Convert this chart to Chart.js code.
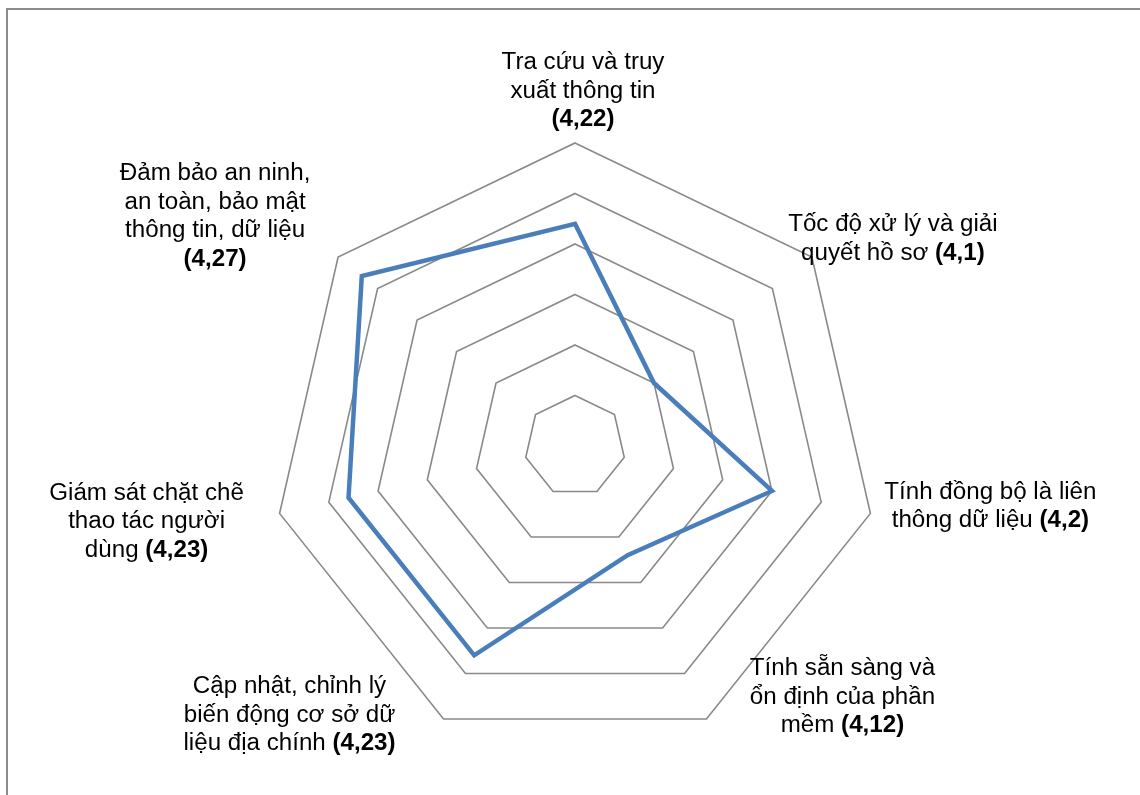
<!DOCTYPE html>
<html>
<head>
<meta charset="utf-8">
<script src="https://cdn.jsdelivr.net/npm/chart.js@4/dist/chart.umd.min.js"></script>
<style>
  html, body { margin: 0; padding: 0; background: #fff; overflow: hidden; }
  #frame { position: absolute; left: 6px; top: 8px; width: 1300px; height: 1000px; border: 2px solid #8c8c8c; }
  #wrap { position: absolute; left: 0; top: 0; width: 1140px; height: 795px; }
</style>
</head>
<body>
<div id="frame"></div>
<div id="wrap"><canvas id="myChart" width="1140" height="795"></canvas></div>
<script>
// categories (label lines; each line is a list of [text, bold] parts)
const categories = [
    'Tra cứu và truy xuất thông tin',
    'Tốc độ xử lý và giải quyết hồ sơ',
    'Tính đồng bộ là liên thông dữ liệu',
    'Tính sẵn sàng và ổn định của phần mềm',
    'Cập nhật, chỉnh lý biến động cơ sở dữ liệu địa chính',
    'Giám sát chặt chẽ thao tác người dùng',
    'Đảm bảo an ninh, an toàn, bảo mật thông tin, dữ liệu'
];
const scores = [4.22, 4.1, 4.2, 4.12, 4.23, 4.23, 4.27];
const labelLines = [
    [[['Tra cứu và truy', false]], [['xuất thông tin', false]], [['(4,22)', true]]],
    [[['Tốc độ xử lý và giải', false]], [['quyết hồ sơ ', false], ['(4,1)', true]]],
    [[['Tính đồng bộ là liên', false]], [['thông dữ liệu ', false], ['(4,2)', true]]],
    [[['Tính sẵn sàng và', false]], [['ổn định của phần', false]], [['mềm ', false], ['(4,12)', true]]],
    [[['Cập nhật, chỉnh lý', false]], [['biến động cơ sở dữ', false]], [['liệu địa chính ', false], ['(4,23)', true]]],
    [[['Giám sát chặt chẽ', false]], [['thao tác người', false]], [['dùng ', false], ['(4,23)', true]]],
    [[['Đảm bảo an ninh,', false]], [['an toàn, bảo mật', false]], [['thông tin, dữ liệu', false]], [['(4,27)', true]]]
];
const scaleMin = 4.0;
const scaleMax = 4.3;
const scaleStep = 0.05;

// where each label block sits, relative to the outer vertex of its spoke
const labelOffsets = [[8, -80], [81, -32], [120, -21], [136, -50], [-154, -32], [-133, -20], [-123, -83]];
const fontSize = 23;
const stretchX = 1.05;
const lineGap = 28.5;

const labelPlugin = {
    id: 'radarLabels',
    afterDraw(chart) {
        const { ctx } = chart;
        const scale = chart.scales.r;
        const fontOf = b => (b ? 'bold ' : '') + fontSize + 'px "Liberation Sans", Arial, sans-serif';
        ctx.save();
        ctx.fillStyle = '#000';
        ctx.textBaseline = 'middle';
        ctx.textAlign = 'left';
        labelLines.forEach((lines, i) => {
            const p = scale.getPointPosition(i, scale.drawingArea);
            const cx = p.x + labelOffsets[i][0];
            let y = p.y + labelOffsets[i][1];
            lines.forEach(parts => {
                let total = 0;
                parts.forEach(([t, b]) => {
                    ctx.font = fontOf(b);
                    total += ctx.measureText(t).width * stretchX;
                });
                let x = cx - total / 2;
                parts.forEach(([t, b]) => {
                    ctx.font = fontOf(b);
                    ctx.save();
                    ctx.translate(x, y);
                    ctx.scale(stretchX, 1);
                    ctx.fillText(t, 0, 0);
                    ctx.restore();
                    x += ctx.measureText(t).width * stretchX;
                });
                y += lineGap;
            });
        });
        ctx.restore();
    }
};

new Chart(document.getElementById('myChart'), {
    type: 'radar',
    data: {
        labels: categories,
        datasets: [{
            label: 'Điểm',
            data: scores,
            borderColor: '#4a7ebb',
            backgroundColor: 'rgba(0,0,0,0)',
            borderWidth: 4.5,
            borderJoinStyle: 'miter',
            pointRadius: 0,
            pointHoverRadius: 0,
            fill: false,
            tension: 0
        }]
    },
    options: {
        responsive: false,
        animation: false,
        layout: { padding: { left: 272, right: 262, top: 143, bottom: 46 } },
        plugins: { legend: { display: false }, tooltip: { enabled: false } },
        scales: {
            r: {
                min: scaleMin,
                max: scaleMax,
                ticks: { stepSize: scaleStep, display: false },
                angleLines: { display: false },
                grid: { color: '#898989', lineWidth: 1.6 },
                pointLabels: { display: false }
            }
        }
    },
    plugins: [labelPlugin]
});
</script>
</body>
</html>
